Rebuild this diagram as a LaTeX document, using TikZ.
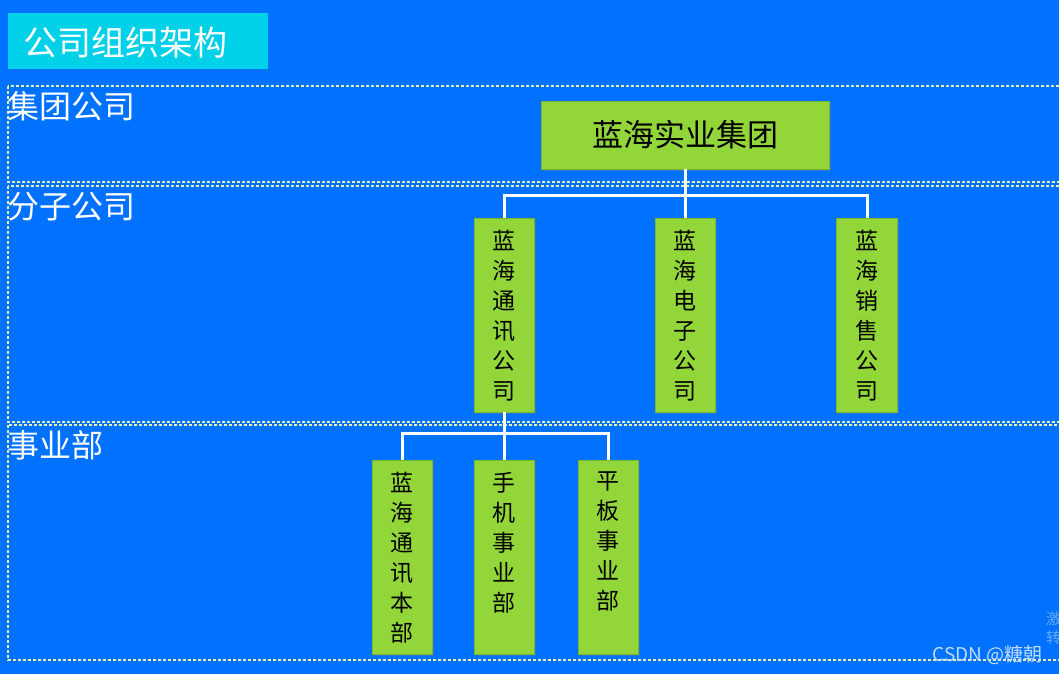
\documentclass[tikz,border=0pt]{standalone}
\usepackage{fontspec}
\setmainfont{Noto Sans CJK SC}
\usetikzlibrary{positioning, shadows}
\definecolor{bgblue}{RGB}{0,114,255}
\definecolor{titlecyan}{RGB}{0,208,232}
\definecolor{boxgreen}{RGB}{146,214,58}
\definecolor{bandline}{RGB}{232,240,175}

\tikzset{
  band/.style={draw=bandline, line width=1.1pt, dash pattern=on 3pt off 2pt},
  bandlabel/.style={anchor=west, text=white, inner sep=0pt, font=\fontsize{32}{32}\selectfont},
  unit/.style={fill=boxgreen, draw=boxgreen!85!black, line width=0.4pt, inner sep=0pt,
    drop shadow={opacity=0.3, shadow xshift=1.5pt, shadow yshift=-1.5pt}},
  unittext/.style={anchor=north, yshift=-12pt, inner sep=0pt, align=center,
    font=\fontsize{23}{30}\selectfont},
  link/.style={white, line width=3pt},
}

\begin{document}
\begin{tikzpicture}[x=1pt, y=-1pt]
    \useasboundingbox[fill=bgblue] (0,0) rectangle (1059,674);

    % title
    \node[fill=titlecyan, minimum width=260pt, minimum height=56pt, inner sep=0pt] (title) at (138,41) {};
    \node[anchor=west, text=white, inner sep=0pt, font=\fontsize{34}{34}\selectfont] (titletext) at (23,43) {公司组织架构};

    % bands
    \draw[band] (8,86) rectangle (1070,182);
    \draw[band] (8,186) rectangle (1070,422);
    \draw[band] (8,425) rectangle (1070,660);
    \node[bandlabel] (group) at (7,106) {集团公司};
    \node[bandlabel] (branch) at (7,207) {分子公司};
    \node[bandlabel] (division) at (7,445) {事业部};

    % units
    \node[unit, minimum width=288pt, minimum height=68pt, font=\fontsize{31}{31}\selectfont] (top) at (685,135) {蓝海实业集团};

    \node[unit, minimum width=60pt, minimum height=194pt,
      label={[unittext]north:蓝\\海\\通\\讯\\公\\司}] (m1) at (504,315) {};
    \node[unit, minimum width=60pt, minimum height=194pt,
      label={[unittext]north:蓝\\海\\电\\子\\公\\司}] (m2) at (685,315) {};
    \node[unit, minimum width=61pt, minimum height=194pt,
      label={[unittext]north:蓝\\海\\销\\售\\公\\司}] (m3) at (867,315) {};

    \node[unit, minimum width=60pt, minimum height=194pt,
      label={[unittext]north:蓝\\海\\通\\讯\\本\\部}] (b1) at (402,557) {};
    \node[unit, minimum width=60pt, minimum height=194pt,
      label={[unittext]north:手\\机\\事\\业\\部}] (b2) at (504,557) {};
    \node[unit, minimum width=60pt, minimum height=194pt,
      label={[unittext]north:平\\板\\事\\业\\部}] (b3) at (608,557) {};

    % connectors
    \coordinate (bar1) at (685,195);
    \coordinate (bar2) at (504,433);
    \draw[link] (top.south) -- (m2.north);
    \draw[link] (bar1) -| (m1.north);
    \draw[link] (bar1) -| (m3.north);
    \draw[link] (m1.south) -- (b2.north);
    \draw[link] (bar2) -| (b1.north);
    \draw[link] (bar2) -| (b3.north);

    % watermark
    \node[anchor=east, inner sep=0pt, text=white!75!bgblue, font=\fontsize{19}{19}\selectfont] (mark) at (1043,655) {CSDN @糖朝};
    \node[anchor=north west, inner sep=0pt, align=left, text=white!40!bgblue, font=\fontsize{15}{19}\selectfont] (mark2) at (1046,612) {激\\转};
\end{tikzpicture}
\end{document}
